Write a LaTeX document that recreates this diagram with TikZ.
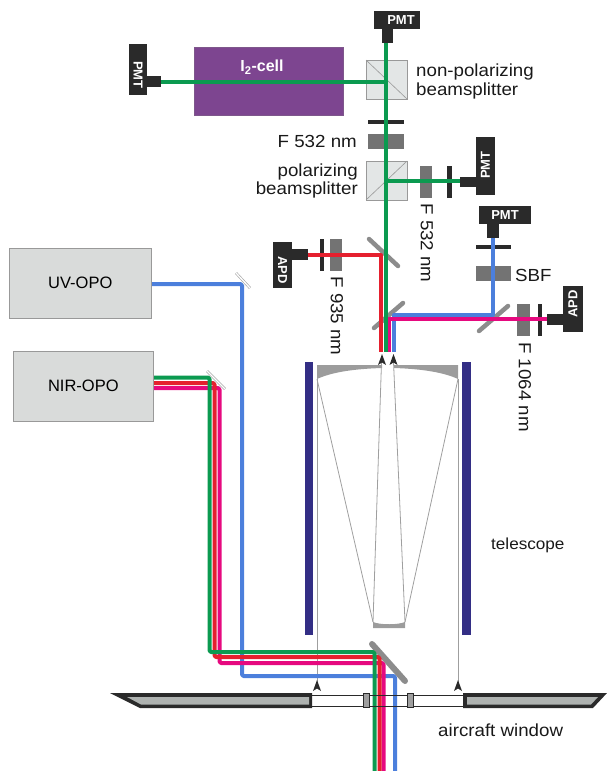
\documentclass[tikz,border=0pt]{standalone}
\usepackage{fontspec}
\setmainfont{Liberation Sans}[FakeStretch=1.07]
\newfontfamily\plainsans{Liberation Sans}
\definecolor{bgreen}{HTML}{0B9A50}
\definecolor{bred}{HTML}{E5202E}
\definecolor{bmag}{HTML}{E6097F}
\definecolor{bblue}{HTML}{4C7FDC}
\definecolor{dk}{HTML}{2A2A2A}
\definecolor{flt}{HTML}{737373}
\definecolor{cube}{HTML}{E3E6E6}
\definecolor{opo}{HTML}{D9DBDA}
\definecolor{tube}{HTML}{332E85}
\definecolor{mir}{HTML}{8C8C8C}
\definecolor{primary}{HTML}{9C9C9C}
\definecolor{wing}{HTML}{AEB2B0}
\definecolor{cell}{HTML}{7D4590}
\newcommand{\uptip}[2]{\fill[dk] (#1,#2) -- (#1+4,#2+11) -- (#1,#2+8.5) -- (#1-4,#2+11) -- cycle;}
\tikzset{
  beam/.style={line width=4pt,line join=round,rounded corners=1.5pt},
  gbeam/.style={beam,draw=bgreen},
  rbeam/.style={beam,draw=bred},
  mbeam/.style={beam,draw=bmag},
  ubeam/.style={beam,draw=bblue},
  darkpart/.style={fill=dk,draw=none},
  filterbox/.style={fill=flt,draw=none},
  cubebox/.style={fill=cube,draw=gray!80,line width=.6pt},
  mirrorbar/.style={draw=mir,line width=4.5pt,line cap=round},
  thinmirror/.style={draw=gray!70,line width=2.6pt,line cap=butt},
  thinmirrorin/.style={draw=white,line width=1.3pt},
  ray/.style={draw=gray!75,line width=.8pt},
  lab/.style={font=\fontsize{17.5}{17.5}\selectfont,inner sep=0pt,text=black!90},
  det/.style={font=\plainsans\bfseries\fontsize{13}{13}\selectfont,text=white,inner sep=0pt},
}
\begin{document}
\begin{tikzpicture}[x=1pt,y=-1pt]
\useasboundingbox (0,0) rectangle (607,771);
% I2 cell
\fill[cell,draw=cell!70!gray,line width=.5pt] (194,47) rectangle (343,115);
\node[font=\plainsans\bfseries\fontsize{16}{16}\selectfont,text=white,inner sep=0pt] (cellname) at (262,67) {I\textsubscript{2}-cell};
% cubes
\draw[cubebox] (366,60) rectangle (407,99);
\draw[gray!80,line width=.6pt] (366,60) -- (407,99);
\draw[cubebox] (366,161) rectangle (407,200);
\draw[gray!80,line width=.6pt] (366,200) -- (407,161);
% filters and bars
\fill[darkpart] (368,120) rectangle (404,124);
\fill[filterbox] (368,134) rectangle (404,149);
\fill[filterbox] (420,166) rectangle (432,198);
\fill[darkpart] (447,166) rectangle (452,198);
\fill[darkpart] (476,245) rectangle (511,249);
\fill[filterbox] (476,266) rectangle (511,281);
\fill[darkpart] (320,239) rectangle (324,271);
\fill[filterbox] (330,239) rectangle (342,271);
\fill[filterbox] (517,304) rectangle (530,336);
\fill[darkpart] (538,304) rectangle (542,336);
% mirrors
\draw[mirrorbar] (369,239) -- (398,266);
\draw[mirrorbar] (374,328) -- (403,303);
\draw[mirrorbar] (479,331) -- (508,306);
\draw[mirrorbar,line width=6pt] (372,644) -- (405,681);
\draw[thinmirror] (236,273) -- (250,288);
\draw[thinmirrorin] (236,273) -- (250,288);
\draw[thinmirror] (207,371) -- (225,389);
\draw[thinmirrorin] (207,371) -- (225,389);
% telescope
\fill[tube] (305,362) rectangle (313,635);
\fill[tube] (462,362) rectangle (471,635);
\fill[primary] (317,365) -- (382,365) -- (382,368) .. controls (350,369) and (330,373) .. (317,379) -- cycle;
\fill[primary] (458,365) -- (394,365) -- (394,368) .. controls (425,369) and (445,373) .. (458,379) -- cycle;
\fill[primary] (373,622) .. controls (380,625) and (398,625) .. (405,622) -- (405,628) -- (373,628) -- cycle;
\draw[ray] (317,379) -- (373,622);
\draw[ray] (458,379) -- (405,622);
\draw[ray] (381.5,362) -- (373,622);
\draw[ray] (393.5,362) -- (405,622);
\draw[ray] (317,379) -- (317,685);
\draw[ray] (458,379) -- (458,685);
\uptip{317}{680}
\uptip{458}{680}
\uptip{382}{354}
\uptip{393.5}{354}
% beams to detectors
\draw[gbeam,rounded corners=0pt] (161,82) -- (386,82);
\draw[gbeam,rounded corners=0pt] (385.5,181) -- (462,181);
\draw[rbeam,rounded corners=0pt] (308,255) -- (381,255) -- (381,352);
\draw[ubeam,rounded corners=0pt] (493,238) -- (493,315) -- (394,315) -- (394,352);
\draw[mbeam,rounded corners=0pt] (547,319) -- (389,319) -- (389,352);
\draw[gbeam,rounded corners=0pt] (385.5,43) -- (385.5,352);
% beams from OPOs
\draw[ubeam] (151,284) -- (242,284) -- (242,676) -- (395,676) -- (395,771);
\draw[mbeam] (153,388) -- (219.5,388) -- (219.5,663) -- (383.5,663) -- (383.5,771);
\draw[rbeam] (153,383) -- (214.5,383) -- (214.5,657) -- (379.5,657) -- (379.5,771);
\draw[gbeam] (153,377.5) -- (209.5,377.5) -- (209.5,652) -- (374.5,652) -- (374.5,771);
% OPO boxes
\node[fill=opo,draw=gray!80,line width=.6pt,minimum width=142pt,minimum height=70pt,inner sep=0pt,anchor=north west,font=\plainsans\fontsize{16.5}{17}\selectfont] (uvopo) at (9,248) {UV-OPO};
\node[fill=opo,draw=gray!80,line width=.6pt,minimum width=140pt,minimum height=70pt,inner sep=0pt,anchor=north west,font=\plainsans\fontsize{16.5}{17}\selectfont] (niropo) at (13,351) {NIR-OPO};
% window
\fill[dk] (110,693) -- (312,693) -- (312,708) -- (140,708) -- cycle;
\fill[wing] (127,697) -- (309,697) -- (309,704.5) -- (141,704.5) -- cycle;
\fill[dk] (463,693) -- (607,693) -- (593,708) -- (463,708) -- cycle;
\fill[wing] (467,697) -- (598,697) -- (591,704.5) -- (467,704.5) -- cycle;
\draw[dk,line width=1pt] (312,695) -- (463,695);
\draw[dk,line width=1pt] (312,706) -- (463,706);
\draw[fill=gray!75,draw=dk,line width=1pt] (363.5,693.5) rectangle (369.5,707.5);
\draw[fill=gray!75,draw=dk,line width=1pt] (407.5,693.5) rectangle (413.5,707.5);
% detectors
\fill[darkpart] (129,44) rectangle (147,95);
\fill[darkpart] (147,76) rectangle (161,87);
\node[det,rotate=-90] (pmtA) at (138,75) {PMT};
\fill[darkpart] (374,11) rectangle (420,29);
\fill[darkpart] (382,29) rectangle (393,43);
\node[det] (pmtB) at (401,20.5) {PMT};
\fill[darkpart] (476,137) rectangle (495,195);
\fill[darkpart] (460,177) rectangle (476,187);
\node[det,rotate=90] (pmtC) at (485.5,165) {PMT};
\fill[darkpart] (479,206) rectangle (531,224);
\fill[darkpart] (487,224) rectangle (499,238);
\node[det] (pmtD) at (505,215.5) {PMT};
\fill[darkpart] (273,242) rectangle (292,288);
\fill[darkpart] (292,249) rectangle (308,260);
\node[det,rotate=-90] (apdA) at (282.5,270) {APD};
\fill[darkpart] (563,286) rectangle (583,332);
\fill[darkpart] (547,314) rectangle (563,325);
\node[det,rotate=90] (apdB) at (573,304) {APD};
% labels
\node[lab,align=left,anchor=west] (npbs) at (416,81) {non-polarizing\\[1.5pt]beamsplitter};
\node[lab,anchor=east] (f532a) at (357,141) {F 532 nm};
\node[lab,align=right,anchor=east] (pbs) at (358,181) {polarizing\\[0pt]beamsplitter};
\node[lab,rotate=-90] (f532b) at (427,243) {F 532 nm};
\node[lab,rotate=-90] (f935) at (337,316) {F 935 nm};
\node[lab,rotate=-90] (f1064) at (525,387) {F 1064 nm};
\node[lab,anchor=west] (sbf) at (515,275) {SBF};
\node[lab,font=\fontsize{16}{16}\selectfont,anchor=west] (tele) at (491,545) {telescope};
\node[lab,anchor=west] (acw) at (438,730) {aircraft window};
\end{tikzpicture}
\end{document}
